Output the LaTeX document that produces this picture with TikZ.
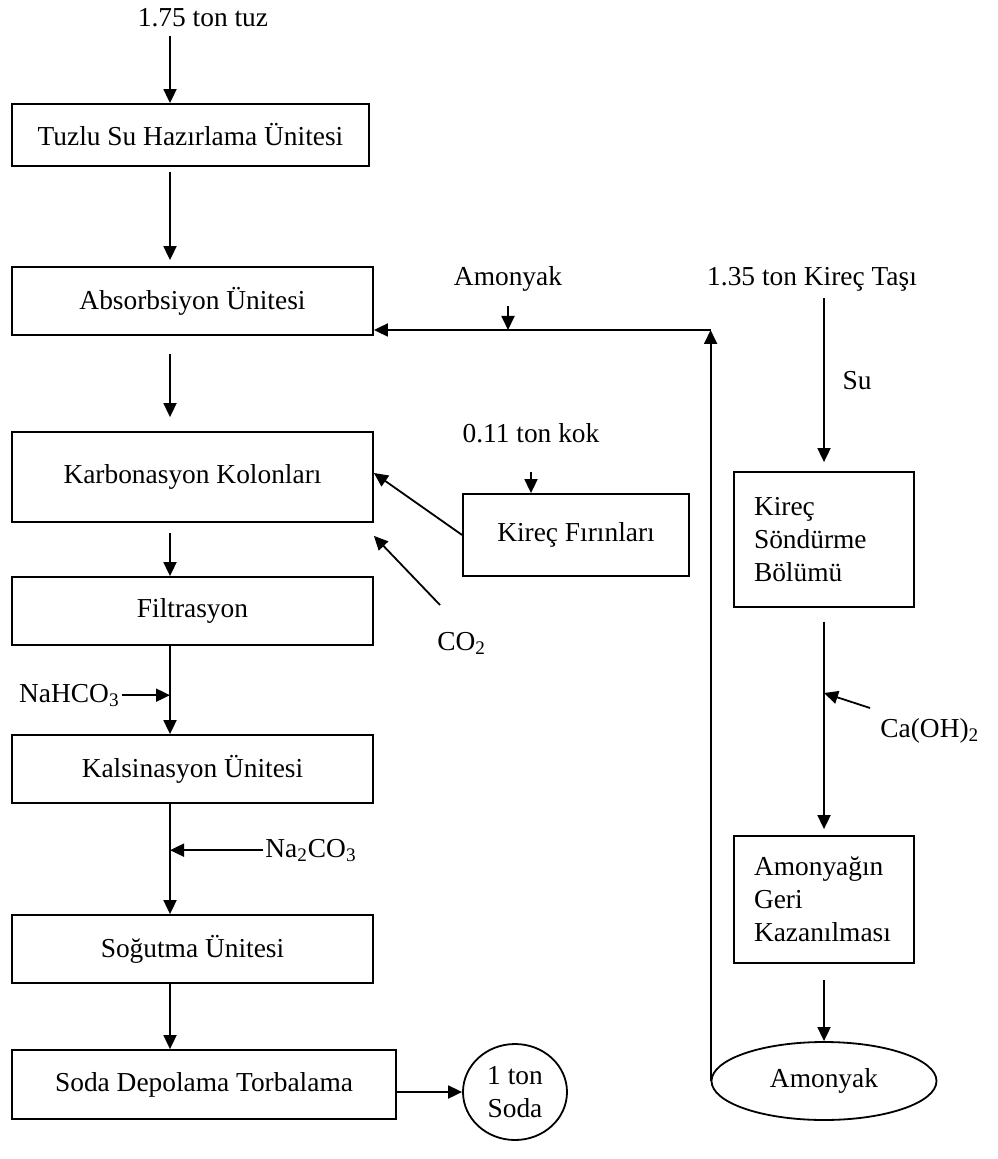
\documentclass[tikz,border=0pt]{standalone}
\usepackage{fontspec}
\setmainfont{Liberation Serif}
\usetikzlibrary{arrows.meta,shapes.geometric,calc}

\begin{document}
\begin{tikzpicture}[x=0.5pt, y=-0.5pt,
  every node/.style={font=\fontsize{13.7}{16.5}\selectfont},
  label/.style={inner sep=1pt},
  unit/.style={draw, line width=0.9pt, rectangle, inner sep=0pt, align=center},
  sidebox/.style={draw, line width=0.9pt, rectangle, inner xsep=10pt, align=left, text width=70pt},
  product/.style={draw, line width=0.9pt, ellipse, inner sep=0pt, align=center},
  flow/.style={line width=0.9pt, -{Triangle[width=6.5pt,length=7pt]}}]

  \useasboundingbox (0,0) rectangle (997,1159);

  % vertical axes of the two columns
  \coordinate (spine) at (170,0);
  \coordinate (rspine) at (824,0);

  % main line, left column
  \node[label, anchor=base] (tuz) at (203,27) {1.75 ton tuz};
  \node[unit, minimum width=178.5pt, minimum height=31pt] (brine) at (190.5,135) {Tuzlu Su Hazırlama Ünitesi};
  \node[unit, minimum width=180.5pt, minimum height=34pt] (absorb) at (192.5,301) {Absorbsiyon Ünitesi};
  \node[unit, minimum width=180.5pt, minimum height=45pt] (carb) at (192.5,477) {Karbonasyon Kolonları};
  \node[unit, minimum width=180.5pt, minimum height=34pt] (filt) at (192.5,611) {Filtrasyon};
  \node[unit, minimum width=180.5pt, minimum height=34pt] (kals) at (192.5,769) {Kalsinasyon Ünitesi};
  \node[unit, minimum width=180.5pt, minimum height=34pt] (sogut) at (192.5,949) {Soğutma Ünitesi};
  \node[unit, minimum width=192pt, minimum height=34.5pt] (soda) at (204,1084.5) {Soda Depolama Torbalama};
  \node[product, minimum width=52pt, minimum height=48pt] (sodaout) at (515,1092) {1 ton\\Soda};

  % side streams
  \node[label, anchor=base east] (nahco) at (122,702) {NaHCO\textsubscript{3}};
  \node[label, anchor=base west] (naco) at (263,857) {Na\textsubscript{2}CO\textsubscript{3}};
  \node[label, anchor=base] (amonyak) at (508,286) {Amonyak};
  \node[label, anchor=base] (kok) at (531,443) {0.11 ton kok};
  \node[unit, minimum width=113pt, minimum height=41pt] (firin) at (576,535) {Kireç Fırınları};
  \node[label, anchor=base west] (co2) at (435,650) {CO\textsubscript{2}};

  % right column
  \node[label, anchor=base] (kirectasi) at (812,286) {1.35 ton Kireç Taşı};
  \node[label, anchor=base] (su) at (857,390) {Su};
  \node[sidebox, minimum height=67.5pt] (sondur) at (824,539.5) {Kireç\\Söndürme\\Bölümü};
  \node[label, anchor=base west] (caoh) at (878,737) {Ca(OH)\textsubscript{2}};
  \node[sidebox, minimum height=63.5pt] (geri) at (824,899.5) {Amonyağın\\Geri\\Kazanılması};
  \node[product, minimum width=112.5pt, minimum height=39pt] (cao) at (824,1081) {Amonyak};

  % chain of units
  \foreach \from/\to/\gapa/\gapb in {tuz/brine/3/0, brine/absorb/2.5/3, absorb/carb/9/7,
      carb/filt/5/0, filt/kals/0/0, kals/sogut/0/0, sogut/soda/0/0}
    \draw[flow, shorten <=\gapa pt, shorten >=\gapb pt] (\from.south -| spine) -- (\to.north -| spine);
  \draw[flow] (soda.east |- sodaout.west) -- (sodaout.west);

  % feeds into the main line
  \draw[flow] (nahco.east) -- (nahco.east -| spine);
  \draw[flow] (naco.west) -- (naco.west -| spine);

  % lime kiln to carbonation
  \draw[flow, shorten <=13pt] (kok.south) -- (kok.south |- firin.north);
  \draw[flow] (firin.west) -- ([yshift=2pt]carb.east);
  \coordinate (co2tail) at (440,605);
  \draw[flow] (co2tail) -- ([yshift=-6.5pt]carb.south east);

  % lime slaking and ammonia recovery
  \draw[flow, shorten <=2pt, shorten >=4.5pt] (kirectasi.south -| rspine) -- (sondur.north);
  \draw[flow, shorten <=7pt, shorten >=3pt] (sondur.south) -- (geri.north);
  \coordinate (caohtail) at (870,708);
  \draw[flow] (caohtail) -- (rspine |- 0,693);
  \draw[flow, shorten <=8pt] (geri.south) -- (cao.north);

  % recovered ammonia back to absorption
  \coordinate (ret) at (cao.west |- 0,330);
  \draw[flow] (cao.west) -- (ret);
  \draw[flow] (ret) -- (ret -| absorb.east);
  \draw[flow, shorten <=6pt] (amonyak.south) -- (amonyak.south |- ret);
\end{tikzpicture}
\end{document}
